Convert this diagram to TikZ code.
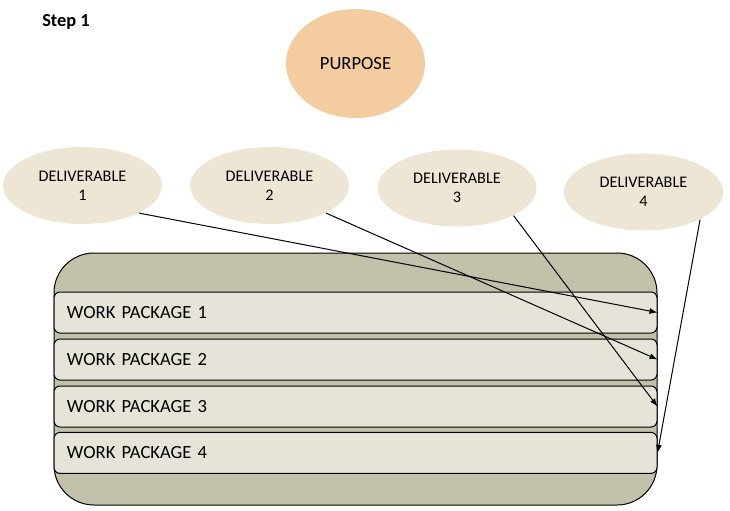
\documentclass[tikz,border=0pt]{standalone}
\usepackage{fontspec}
\setmainfont{Carlito}
\usetikzlibrary{arrows.meta, positioning, shapes.geometric}

\colorlet{purpose}{orange!45!white}
\definecolor{purpose}{RGB}{243,205,160}
\definecolor{deliv}{RGB}{238,230,213}
\definecolor{frame}{RGB}{196,193,171}
\definecolor{package}{RGB}{230,227,217}

\begin{document}
\begin{tikzpicture}[x=0.5pt,y=-0.5pt,line width=0.5pt,
  deliverable/.style={ellipse,fill=deliv,minimum width=79.5pt,minimum height=38.5pt,
    inner sep=0pt,align=center,font=\fontsize{8.1}{9.6}\selectfont},
  wp/.style={draw,rounded corners=3pt,fill=package,minimum width=301.5pt,minimum height=20.5pt,
    text width=288.5pt,inner xsep=6.5pt,inner ysep=0pt,align=left,font=\fontsize{9.3}{11}\selectfont},
  link/.style={-{Latex[length=4pt,width=3pt]},line width=0.5pt}]
  \useasboundingbox (0,0) rectangle (730,510);

  \node [font=\fontsize{9.2}{11}\selectfont\bfseries] (step) at (66,22) {Step 1};

  \node [ellipse,fill=purpose,minimum width=69.5pt,minimum height=54.5pt,inner sep=0pt,
    font=\fontsize{9.3}{11}\selectfont] (purpose) at (355.5,63.5) {PURPOSE};

  \node [deliverable] (d1) at (82.5,185.5) {DELIVERABLE\\1};
  \node [deliverable] (d2) at (269.5,185.5) {DELIVERABLE\\2};
  \node [deliverable] (d3) at (457,188) {DELIVERABLE\\3};
  \node [deliverable] (d4) at (643.5,192) {DELIVERABLE\\4};

  % the container
  \node [draw,fill=frame,rounded corners=20pt,minimum width=301.5pt,minimum height=126pt]
    (frame) at (355.5,379) {};

  \node [wp] (wp1) at (355.5,312.5) {WORK PACKAGE 1};
  \node [wp,below=2.5pt of wp1] (wp2) {WORK PACKAGE 2};
  \node [wp,below=2.5pt of wp2] (wp3) {WORK PACKAGE 3};
  \node [wp,below=2.2pt of wp3] (wp4) {WORK PACKAGE 4};

  \foreach \i in {1,...,4}
    \draw [link] (d\i.-26) -- (wp\i.east);
\end{tikzpicture}
\end{document}
